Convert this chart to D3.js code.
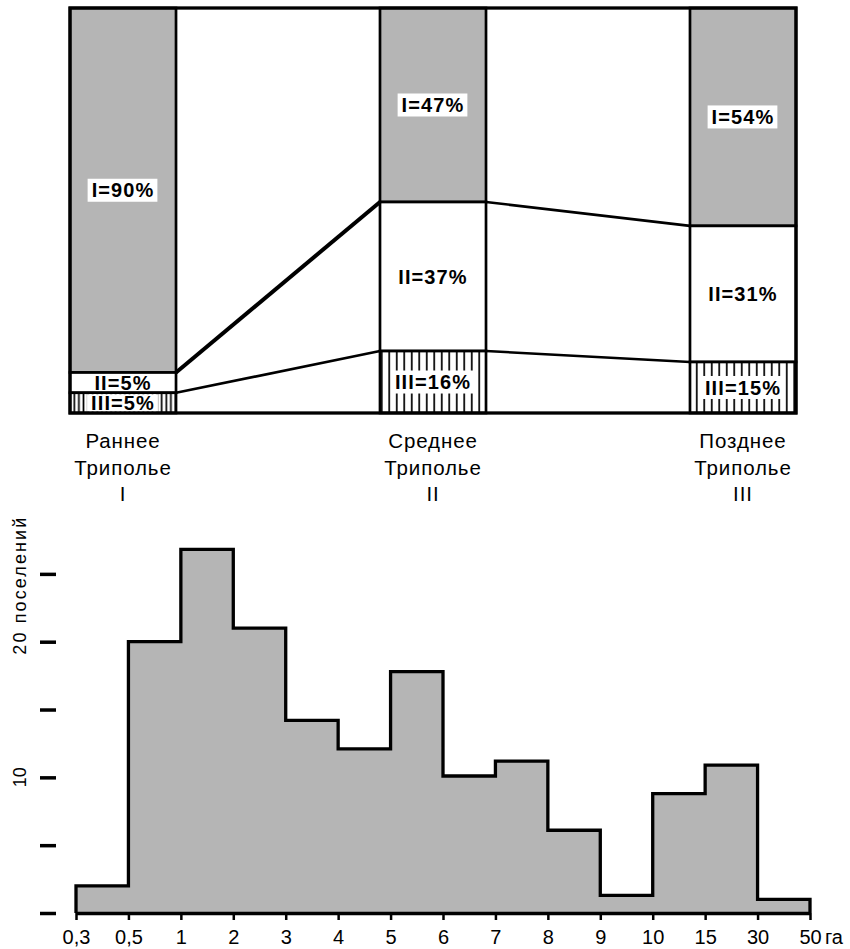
<!DOCTYPE html>
<html><head><meta charset="utf-8">
<script src="https://cdn.jsdelivr.net/npm/d3@7"></script>
<style>body{margin:0;background:#fff}svg{display:block}</style>
</head><body>
<svg id="c" width="850" height="949"></svg>
<script>
// ---- Top chart data (shares, % of settlements) ----
const periods = ["Раннее", "Среднее", "Позднее"];
const periodLine2 = ["Триполье", "Триполье", "Триполье"];
const periodRoman = ["I", "II", "III"];
const shareI = [90, 47.9, 53.8];
const shareII = [5, 36.8, 33.6];
const shareIII = [5, 15.3, 12.6];
const labelI = ["I=90%", "I=47%", "I=54%"];
const labelII = ["II=5%", "II=37%", "II=31%"];
const labelIII = ["III=5%", "III=16%", "III=15%"];

// ---- Histogram data ----
const sizeTicks = ["0,3","0,5","1","2","3","4","5","6","7","8","9","10","15","30","50"];
const settlementCounts = [2, 20, 26.8, 21, 14.2, 12.1, 17.8, 10.1, 11.2, 6.1, 1.3, 8.8, 10.9, 1];
const countTicks = [0, 5, 10, 15, 20, 25];
const countLabels = ["", "", "10", "", "20 поселений", ""];

const GRAY = "#b5b5b5";
const FONT = "'Liberation Sans', Arial, Helvetica, sans-serif";
const svg = d3.select("#c");

// patterns
const defs = svg.append("defs");
function hatch(id, step) {
  const p = defs.append("pattern").attr("id", id).attr("patternUnits", "userSpaceOnUse")
    .attr("width", step).attr("height", 10).attr("x", 3);
  p.append("rect").attr("width", step).attr("height", 10).attr("fill", "#fff");
  p.append("line").attr("x1", step / 2).attr("x2", step / 2).attr("y1", 0).attr("y2", 10)
    .attr("stroke", "#000").attr("stroke-width", 1.7);
}
hatch("hatchN", 4.6);
hatch("hatchW", 7.5);

// ---- Top chart ----
const x = d3.scaleBand().domain(periods).range([70, 796]).paddingInner(0.658).paddingOuter(0);
const y = d3.scaleLinear().domain([0, 100]).range([8, 413]);
const bw = x.bandwidth();

const segs = [];
periods.forEach((p, i) => {
  const a = shareI[i], b = a + shareII[i], c = b + shareIII[i];
  segs.push({p, i, k: "I", y0: 0, y1: a, label: labelI[i]});
  segs.push({p, i, k: "II", y0: a, y1: b, label: labelII[i]});
  segs.push({p, i, k: "III", y0: b, y1: Math.min(c, 100), label: labelIII[i]});
});

const gTop = svg.append("g");
gTop.selectAll("rect.seg").data(segs).join("rect").attr("class", "seg")
  .attr("x", d => x(d.p)).attr("width", bw)
  .attr("y", d => y(d.y0)).attr("height", d => y(d.y1) - y(d.y0))
  .attr("fill", d => d.k === "I" ? GRAY : d.k === "II" ? "#fff" : (d.i === 0 ? "url(#hatchN)" : "url(#hatchW)"))
  .attr("stroke", "#000").attr("stroke-width", 2.7);

// connectors
const b1 = shareI, b2 = shareI.map((v, i) => v + shareII[i]);
for (let i = 0; i < periods.length - 1; i++) {
  [[b1, i === 0 ? 4 : 2.6], [b2, 2.6]].forEach(([b, w]) => {
    gTop.append("line")
      .attr("x1", x(periods[i]) + bw).attr("y1", y(b[i]))
      .attr("x2", x(periods[i + 1])).attr("y2", y(b[i + 1]))
      .attr("stroke", "#000").attr("stroke-width", w);
  });
}

// labels
segs.forEach(d => {
  const cx = x(d.p) + bw / 2, cy = (y(d.y0) + y(d.y1)) / 2;
  const g = gTop.append("g");
  const t = g.append("text").attr("x", cx).attr("y", cy).attr("dy", "0.36em")
    .attr("text-anchor", "middle").attr("font-family", FONT).attr("font-weight", "bold")
    .attr("font-size", 20).attr("letter-spacing", 1.1).text(d.label);
  if (d.k !== "II") {
    const bb = t.node().getBBox();
    const bandH = y(d.y1) - y(d.y0) - 3;
    const h = Math.min(23, bandH);
    g.insert("rect", "text").attr("x", bb.x - 4).attr("width", bb.width + 7)
      .attr("y", cy - h / 2).attr("height", h).attr("fill", "#fff");
  }
});

// frame
gTop.append("rect").attr("x", 70).attr("y", 8).attr("width", 726).attr("height", 405)
  .attr("fill", "none").attr("stroke", "#000").attr("stroke-width", 3.3);

// category labels
const cat = svg.append("g").attr("font-family", FONT).attr("font-size", 20.5)
  .attr("letter-spacing", 0.9).attr("text-anchor", "middle").attr("fill", "#000");
periods.forEach((p, i) => {
  const cx = x(p) + bw / 2;
  cat.append("text").attr("x", cx).attr("y", 448).text(p);
  cat.append("text").attr("x", cx).attr("y", 475).text(periodLine2[i]);
  cat.append("text").attr("x", cx).attr("y", 501).text(periodRoman[i]);
});

// ---- Histogram ----
const xp = d3.scalePoint().domain(sizeTicks).range([76, 810]);
const yh = d3.scaleLinear().domain([0, 25]).range([913, 913 - 25 * 13.565]);

const pts = [[xp(sizeTicks[0]), yh(0)]];
settlementCounts.forEach((c, i) => {
  pts.push([xp(sizeTicks[i]), yh(c)]);
  pts.push([xp(sizeTicks[i + 1]), yh(c)]);
});
pts.push([xp(sizeTicks[sizeTicks.length - 1]), yh(0)]);
svg.append("path").attr("d", d3.line()(pts))
  .attr("fill", GRAY).attr("stroke", "#000").attr("stroke-width", 3.3)
  .attr("stroke-linejoin", "miter");

// x axis
const gx = svg.append("g").attr("transform", "translate(0,913)")
  .call(d3.axisBottom(xp).tickSize(7).tickSizeOuter(0).tickPadding(9.5));
gx.select(".domain").attr("stroke-width", 3.3);
gx.selectAll(".tick line").attr("stroke-width", 2.5);
gx.selectAll(".tick text").attr("font-family", FONT).attr("font-size", 20).attr("fill", "#000");
svg.append("text").attr("x", 825).attr("y", 943.5).attr("font-family", FONT)
  .attr("font-size", 20).text("га");

// y axis ticks
const gy = svg.append("g").attr("transform", "translate(56,0)")
  .call(d3.axisLeft(yh).tickValues(countTicks).tickSize(16).tickFormat(""));
gy.select(".domain").remove();
gy.selectAll(".tick line").attr("stroke-width", 3.5);

countTicks.forEach((v, i) => {
  const s = countLabels[i];
  if (!s) return;
  const t = svg.append("text").attr("font-family", FONT).attr("font-size", 18)
    .attr("transform", `translate(26,${s.length > 3 ? yh(v) + 13 : yh(v)}) rotate(-90)`)
    .attr("text-anchor", s.length > 3 ? "start" : "middle").text(s);
  if (s.length > 3) t.attr("textLength", 137).attr("lengthAdjust", "spacing");
});
</script>
</body></html>
